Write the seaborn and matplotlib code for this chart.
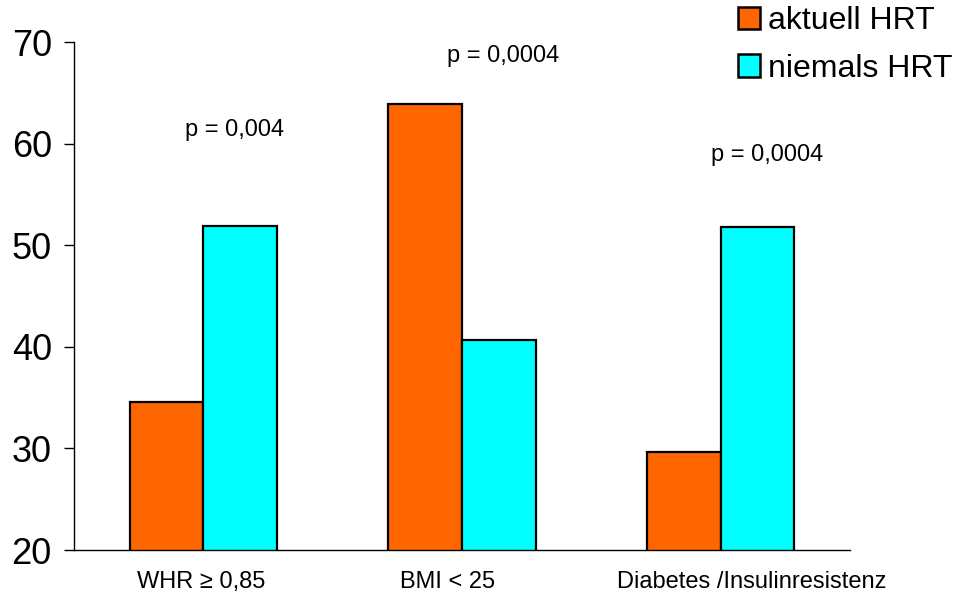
import matplotlib
matplotlib.use("Agg")
import matplotlib.pyplot as plt
import matplotlib.transforms as mtransforms
import seaborn as sns
import pandas as pd
from matplotlib.patches import Patch

categories = ["WHR ≥ 0,85", "BMI < 25", "Diabetes /Insulinresistenz"]
series_names = ["aktuell HRT", "niemals HRT"]
aktuell = [34.6, 63.9, 29.6]
niemals = [51.9, 40.7, 51.8]
p_labels = ["p = 0,004", "p = 0,0004", "p = 0,0004"]
p_y = [61.3, 68.6, 58.9]
yticks = [20, 30, 40, 50, 60, 70]

sns.set_theme(style="white")
plt.rcParams["font.family"] = ["Liberation Sans", "DejaVu Sans"]
plt.rcParams["text.color"] = "black"
plt.rcParams["xtick.color"] = "black"
plt.rcParams["ytick.color"] = "black"

df = pd.DataFrame({
    "cat": categories * 2,
    "series": [series_names[0]] * 3 + [series_names[1]] * 3,
    "value": aktuell + niemals,
})
colors = ["#FF6600", "#00FFFF"]

fig = plt.figure(figsize=(9.56, 6.02), dpi=100)
ax = fig.add_axes([74 / 956, 1 - 550 / 602, (850 - 74) / 956, (550 - 42) / 602])
sns.barplot(data=df, x="cat", y="value", hue="series", palette=colors,
            order=categories, hue_order=series_names, width=0.57,
            edgecolor="black", linewidth=1.6, ax=ax, legend=False, saturation=1)

ax.set_ylim(20, 70)
ax.set_xlim(-0.5, 2.5)
ax.set_yticks(yticks)
ax.set_yticklabels([str(t) for t in yticks], fontsize=26)
ax.set_xticks(range(3))
ax.set_xticklabels(categories, fontsize=17)
ax.set_xticks([-0.5, 0.5, 1.5, 2.5], minor=True)
ax.tick_params(axis="x", which="major", length=0, pad=15)
ax.tick_params(axis="x", which="minor", length=7, width=1, color="black", direction="out")
ax.tick_params(axis="y", which="major", length=7, width=1, color="black", direction="out", left=True, pad=9)
ax.set_xlabel("")
ax.set_ylabel("")
for s in ["top", "right"]:
    ax.spines[s].set_visible(False)
for s in ["left", "bottom"]:
    ax.spines[s].set_color("black")
    ax.spines[s].set_linewidth(1)

# small horizontal shifts of the category labels, as in the original layout
label_dx_px = [-2, -14, 31]
for lbl, dx in zip(ax.get_xticklabels(), label_dx_px):
    lbl.set_transform(lbl.get_transform() + mtransforms.ScaledTranslation(dx / 100, 0, fig.dpi_scale_trans))

p_dx = [0.12, 0.16, 0.18]
for i, (lab, y) in enumerate(zip(p_labels, p_y)):
    ax.text(i + p_dx[i], y, lab, ha="center", va="center", fontsize=17)

handles = [Patch(facecolor=c, edgecolor="black", linewidth=1.8) for c in colors]
fig.legend(handles, series_names, loc="upper left", bbox_to_anchor=(738 / 956, 1 - 6 / 602),
           frameon=False, fontsize=23, handlelength=0.7, handleheight=0.7,
           handletextpad=0.25, labelspacing=0.55, borderaxespad=0, borderpad=0)

fig.savefig("out.png", dpi=100)
